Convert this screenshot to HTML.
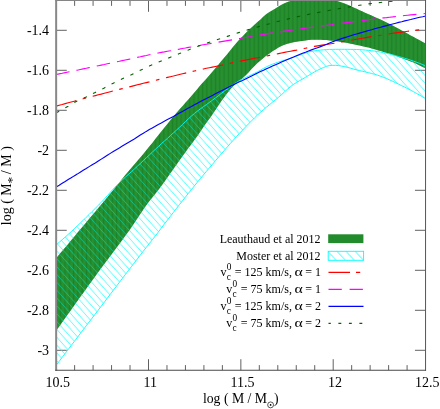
<!DOCTYPE html>
<html><head><meta charset="utf-8"><title>plot</title>
<style>html,body{margin:0;padding:0;background:#fff;}body{width:440px;height:409px;overflow:hidden;font-family:"Liberation Serif",serif;}svg{display:block;}</style></head>
<body>
<svg width="440" height="409" viewBox="0 0 440 409">
<defs>
<pattern id="hatch" patternUnits="userSpaceOnUse" width="7" height="7.84" x="0.3" y="0">
<path d="M-7,-7.84 L14,15.68 M0,-7.84 L14,7.84 M-7,0 L7,15.68" stroke="#00ffff" stroke-width="3" stroke-opacity="0.04" fill="none"/>
<path d="M-7,-7.84 L14,15.68 M0,-7.84 L14,7.84 M-7,0 L7,15.68" stroke="#00ffff" stroke-width="0.7" stroke-opacity="0.8" fill="none"/>
</pattern>
<pattern id="hatchL" patternUnits="userSpaceOnUse" width="9.06" height="9.9" x="328.3" y="251.6">
<path d="M-9.06,-9.9 L18.12,19.8 M0,-9.9 L18.12,9.9 M-9.06,0 L9.06,19.8" stroke="#00ffff" stroke-width="0.8" fill="none"/>
</pattern>
<pattern id="gstripe" patternUnits="userSpaceOnUse" width="4.3" height="10">
<rect x="0" y="0" width="4.3" height="10" fill="#258d2f"/>
<rect x="0" y="0" width="1" height="10" fill="#1e8227"/>
<rect x="2.1" y="0" width="1" height="10" fill="#28922f"/>
</pattern>
<filter id="soft" x="-5%" y="-5%" width="110%" height="110%"><feGaussianBlur stdDeviation="0.3"/></filter>
<clipPath id="clip"><rect x="56.15" y="0" width="369.4" height="370.2"/></clipPath>
</defs>
<rect width="440" height="409" fill="#fff"/>
<path d="M74.62,370.2 v-5.1 M74.62,0 v5.8999999999999995 M93.09,370.2 v-5.1 M93.09,0 v5.8999999999999995 M111.56,370.2 v-5.1 M111.56,0 v5.8999999999999995 M130.03,370.2 v-5.1 M130.03,0 v5.8999999999999995 M148.50,370.2 v-11 M148.50,0 v11.8 M166.97,370.2 v-5.1 M166.97,0 v5.8999999999999995 M185.44,370.2 v-5.1 M185.44,0 v5.8999999999999995 M203.91,370.2 v-5.1 M203.91,0 v5.8999999999999995 M222.38,370.2 v-5.1 M222.38,0 v5.8999999999999995 M240.85,370.2 v-11 M240.85,0 v11.8 M259.32,370.2 v-5.1 M259.32,0 v5.8999999999999995 M277.79,370.2 v-5.1 M277.79,0 v5.8999999999999995 M296.26,370.2 v-5.1 M296.26,0 v5.8999999999999995 M314.73,370.2 v-5.1 M314.73,0 v5.8999999999999995 M333.20,370.2 v-11 M333.20,0 v11.8 M351.67,370.2 v-5.1 M351.67,0 v5.8999999999999995 M370.14,370.2 v-5.1 M370.14,0 v5.8999999999999995 M388.61,370.2 v-5.1 M388.61,0 v5.8999999999999995 M407.08,370.2 v-5.1 M407.08,0 v5.8999999999999995 M56.15,30.30 h10.6 M425.55,30.30 h-10.6 M56.15,70.30 h10.6 M425.55,70.30 h-10.6 M56.15,110.30 h10.6 M425.55,110.30 h-10.6 M56.15,150.30 h10.6 M425.55,150.30 h-10.6 M56.15,190.30 h10.6 M425.55,190.30 h-10.6 M56.15,230.30 h10.6 M425.55,230.30 h-10.6 M56.15,270.30 h10.6 M425.55,270.30 h-10.6 M56.15,310.30 h10.6 M425.55,310.30 h-10.6 M56.15,350.30 h10.6 M425.55,350.30 h-10.6" fill="none" stroke="#5a5a5a" stroke-width="0.95"/>
<g clip-path="url(#clip)">
<polygon points="56.2,258.2 59.2,254.6 62.2,251.0 65.2,247.4 68.2,243.9 71.2,240.3 74.2,236.7 77.2,233.1 80.2,229.5 83.2,225.9 86.2,222.4 89.2,218.8 92.2,215.2 95.3,211.7 98.3,208.1 101.3,204.5 104.3,200.9 107.3,197.2 110.3,193.6 113.3,189.9 116.3,186.3 119.3,182.6 122.3,178.8 125.3,175.1 128.3,171.4 131.3,167.9 134.3,164.4 137.3,160.9 140.3,157.4 143.3,153.9 146.3,150.3 149.3,146.6 152.3,142.9 155.3,139.1 158.3,135.2 161.3,131.4 164.3,127.7 167.4,124.0 170.4,120.3 173.4,116.6 176.4,113.0 179.4,109.5 182.4,106.2 185.4,102.8 188.4,99.5 191.4,96.1 194.4,92.5 197.4,88.9 200.4,85.3 203.4,82.0 206.4,78.7 209.4,75.3 212.4,71.8 215.4,68.3 218.4,64.7 221.4,61.1 224.4,57.5 227.4,53.9 230.4,50.3 233.4,46.6 236.4,43.1 239.4,39.6 242.5,36.4 245.5,33.2 248.5,30.3 251.5,27.4 254.5,24.7 257.5,22.1 260.5,19.4 263.5,16.6 266.5,14.1 269.5,12.1 272.5,10.2 275.5,8.4 278.5,6.6 281.5,4.8 284.5,3.3 287.5,2.0 290.5,0.9 293.5,-0.3 296.5,-1.5 299.5,-2.4 302.5,-3.1 305.5,-3.7 308.5,-4.2 311.5,-4.5 314.5,-4.5 317.6,-4.3 320.6,-3.9 323.6,-3.4 326.6,-2.9 329.6,-2.0 332.6,-0.8 335.6,0.4 338.6,1.5 341.6,2.5 344.6,3.5 347.6,4.7 350.6,6.0 353.6,7.4 356.6,8.8 359.6,10.2 362.6,11.6 365.6,12.9 368.6,14.3 371.6,15.6 374.6,16.9 377.6,18.2 380.6,19.6 383.6,21.0 386.6,22.5 389.7,24.1 392.7,25.6 395.7,27.2 398.7,28.8 401.7,30.5 404.7,32.1 407.7,33.8 410.7,35.5 413.7,37.1 416.7,38.7 419.7,40.3 422.7,42.0 425.7,43.6 425.7,68.6 422.7,67.0 419.7,65.4 416.7,64.0 413.7,62.6 410.7,61.4 407.7,60.2 404.7,59.2 401.7,58.1 398.7,56.9 395.7,55.8 392.7,54.8 389.7,53.8 386.6,52.9 383.6,51.9 380.6,51.0 377.6,50.2 374.6,49.3 371.6,48.4 368.6,47.6 365.6,46.9 362.6,46.2 359.6,45.5 356.6,44.9 353.6,44.3 350.6,43.7 347.6,43.1 344.6,42.5 341.6,42.0 338.6,41.5 335.6,41.1 332.6,40.7 329.6,40.4 326.6,40.1 323.6,39.9 320.6,39.7 317.6,39.7 314.5,39.7 311.5,39.7 308.5,39.9 305.5,40.5 302.5,40.9 299.5,41.3 296.5,41.7 293.5,42.2 290.5,42.9 287.5,43.7 284.5,44.7 281.5,46.0 278.5,47.6 275.5,49.4 272.5,51.3 269.5,53.4 266.5,55.6 263.5,58.0 260.5,60.5 257.5,63.1 254.5,65.9 251.5,68.9 248.5,72.4 245.5,75.5 242.5,78.2 239.4,80.7 236.4,83.2 233.4,86.0 230.4,89.2 227.4,93.0 224.4,97.0 221.4,101.1 218.4,105.5 215.4,110.0 212.4,114.5 209.4,118.7 206.4,122.8 203.4,127.0 200.4,131.4 197.4,135.9 194.4,140.1 191.4,144.2 188.4,148.1 185.4,152.2 182.4,156.3 179.4,160.5 176.4,164.7 173.4,168.9 170.4,173.2 167.4,177.6 164.3,181.9 161.3,186.1 158.3,190.1 155.3,193.8 152.3,197.5 149.3,201.2 146.3,205.3 143.3,209.6 140.3,214.0 137.3,218.5 134.3,223.0 131.3,227.4 128.3,231.7 125.3,235.8 122.3,239.9 119.3,244.0 116.3,248.0 113.3,251.9 110.3,255.9 107.3,259.9 104.3,263.9 101.3,268.0 98.3,272.1 95.3,276.2 92.2,280.4 89.2,284.5 86.2,288.7 83.2,292.9 80.2,297.1 77.2,301.3 74.2,305.5 71.2,309.7 68.2,313.8 65.2,318.0 62.2,322.2 59.2,326.4 56.2,330.6" fill="url(#gstripe)"/>
<clipPath id="cband"><polygon points="56.2,244.9 59.2,242.3 62.2,239.7 65.2,237.1 68.2,234.4 71.2,231.7 74.2,228.9 77.2,226.0 80.2,223.2 83.2,220.3 86.2,217.3 89.2,214.4 92.2,211.4 95.3,208.4 98.3,205.3 101.3,202.2 104.3,199.1 107.3,195.7 110.3,192.3 113.3,189.0 116.3,185.7 119.3,182.7 122.3,179.9 125.3,177.2 128.3,174.5 131.3,171.8 134.3,169.1 137.3,166.3 140.3,163.5 143.3,160.6 146.3,157.8 149.3,155.0 152.3,152.1 155.3,149.4 158.3,146.6 161.3,143.8 164.3,141.1 167.4,138.4 170.4,135.6 173.4,132.9 176.4,130.2 179.4,127.4 182.4,124.5 185.4,121.6 188.4,118.8 191.4,116.1 194.4,113.5 197.4,111.1 200.4,108.8 203.4,106.7 206.4,104.6 209.4,102.4 212.4,100.2 215.4,98.0 218.4,95.7 221.4,93.4 224.4,91.0 227.4,88.8 230.4,86.6 233.4,84.5 236.4,82.5 239.4,80.6 242.5,79.0 245.5,77.5 248.5,76.1 251.5,74.7 254.5,73.3 257.5,71.8 260.5,70.2 263.5,68.4 266.5,66.8 269.5,65.4 272.5,64.2 275.5,63.1 278.5,62.0 281.5,61.0 284.5,60.1 287.5,59.3 290.5,58.3 293.5,57.3 296.5,56.2 299.5,55.2 302.5,54.1 305.5,53.0 308.5,52.0 311.5,51.3 314.5,50.8 317.6,50.4 320.6,50.1 323.6,49.8 326.6,49.5 329.6,49.4 332.6,49.4 335.6,49.3 338.6,49.3 341.6,49.3 344.6,49.3 347.6,49.3 350.6,49.4 353.6,49.4 356.6,49.5 359.6,49.6 362.6,49.8 365.6,50.1 368.6,50.4 371.6,50.7 374.6,51.1 377.6,51.6 380.6,52.1 383.6,52.7 386.6,53.3 389.7,54.1 392.7,54.9 395.7,55.7 398.7,56.6 401.7,57.4 404.7,58.3 407.7,59.2 410.7,60.2 413.7,61.2 416.7,62.3 419.7,63.4 422.7,64.6 425.7,65.8 425.7,98.7 422.7,96.9 419.7,95.2 416.7,93.5 413.7,91.8 410.7,90.2 407.7,88.7 404.7,87.1 401.7,85.7 398.7,84.2 395.7,82.8 392.7,81.3 389.7,79.9 386.6,78.6 383.6,77.4 380.6,76.3 377.6,75.2 374.6,74.3 371.6,73.5 368.6,72.7 365.6,72.0 362.6,71.3 359.6,70.6 356.6,69.9 353.6,69.1 350.6,68.2 347.6,67.4 344.6,66.6 341.6,66.1 338.6,65.6 335.6,65.3 332.6,65.4 329.6,65.5 326.6,66.3 323.6,67.5 320.6,68.7 317.6,70.3 314.5,71.9 311.5,73.7 308.5,75.5 305.5,77.3 302.5,79.1 299.5,80.7 296.5,82.5 293.5,84.4 290.5,86.6 287.5,89.2 284.5,91.9 281.5,94.7 278.5,97.3 275.5,99.8 272.5,102.2 269.5,104.7 266.5,107.1 263.5,109.7 260.5,112.3 257.5,115.0 254.5,117.9 251.5,120.9 248.5,123.9 245.5,127.0 242.5,130.2 239.4,133.4 236.4,136.7 233.4,140.1 230.4,143.4 227.4,146.9 224.4,150.3 221.4,153.8 218.4,157.3 215.4,160.8 212.4,164.4 209.4,167.9 206.4,171.4 203.4,175.0 200.4,178.6 197.4,182.2 194.4,185.9 191.4,189.6 188.4,193.4 185.4,197.1 182.4,200.9 179.4,204.7 176.4,208.6 173.4,212.4 170.4,216.3 167.4,220.2 164.3,224.1 161.3,228.1 158.3,232.1 155.3,236.0 152.3,239.8 149.3,243.6 146.3,247.4 143.3,251.2 140.3,255.1 137.3,259.0 134.3,262.9 131.3,266.8 128.3,270.7 125.3,274.6 122.3,278.5 119.3,282.5 116.3,286.4 113.3,290.3 110.3,294.3 107.3,298.2 104.3,302.2 101.3,306.1 98.3,310.1 95.3,314.0 92.2,318.0 89.2,321.9 86.2,325.8 83.2,329.8 80.2,333.7 77.2,337.7 74.2,341.6 71.2,345.5 68.2,349.5 65.2,353.4 62.2,357.3 59.2,361.3 56.2,365.2"/></clipPath>
<g clip-path="url(#cband)"><path d="M-423.76,-5 L-84.48,375 M-416.76,-5 L-77.48,375 M-409.76,-5 L-70.48,375 M-402.76,-5 L-63.48,375 M-395.76,-5 L-56.48,375 M-388.76,-5 L-49.48,375 M-381.76,-5 L-42.48,375 M-374.76,-5 L-35.48,375 M-367.76,-5 L-28.48,375 M-360.76,-5 L-21.48,375 M-353.76,-5 L-14.48,375 M-346.76,-5 L-7.48,375 M-339.76,-5 L-0.48,375 M-332.76,-5 L6.52,375 M-325.76,-5 L13.52,375 M-318.76,-5 L20.52,375 M-311.76,-5 L27.52,375 M-304.76,-5 L34.52,375 M-297.76,-5 L41.52,375 M-290.76,-5 L48.52,375 M-283.76,-5 L55.52,375 M-276.76,-5 L62.52,375 M-269.76,-5 L69.52,375 M-262.76,-5 L76.52,375 M-255.76,-5 L83.52,375 M-248.76,-5 L90.52,375 M-241.76,-5 L97.52,375 M-234.76,-5 L104.52,375 M-227.76,-5 L111.52,375 M-220.76,-5 L118.52,375 M-213.76,-5 L125.52,375 M-206.76,-5 L132.52,375 M-199.76,-5 L139.52,375 M-192.76,-5 L146.52,375 M-185.76,-5 L153.52,375 M-178.76,-5 L160.52,375 M-171.76,-5 L167.52,375 M-164.76,-5 L174.52,375 M-157.76,-5 L181.52,375 M-150.76,-5 L188.52,375 M-143.76,-5 L195.52,375 M-136.76,-5 L202.52,375 M-129.76,-5 L209.52,375 M-122.76,-5 L216.52,375 M-115.76,-5 L223.52,375 M-108.76,-5 L230.52,375 M-101.76,-5 L237.52,375 M-94.76,-5 L244.52,375 M-87.76,-5 L251.52,375 M-80.76,-5 L258.52,375 M-73.76,-5 L265.52,375 M-66.76,-5 L272.52,375 M-59.76,-5 L279.52,375 M-52.76,-5 L286.52,375 M-45.76,-5 L293.52,375 M-38.76,-5 L300.52,375 M-31.76,-5 L307.52,375 M-24.76,-5 L314.52,375 M-17.76,-5 L321.52,375 M-10.76,-5 L328.52,375 M-3.76,-5 L335.52,375 M3.24,-5 L342.52,375 M10.24,-5 L349.52,375 M17.24,-5 L356.52,375 M24.24,-5 L363.52,375 M31.24,-5 L370.52,375 M38.24,-5 L377.52,375 M45.24,-5 L384.52,375 M52.24,-5 L391.52,375 M59.24,-5 L398.52,375 M66.24,-5 L405.52,375 M73.24,-5 L412.52,375 M80.24,-5 L419.52,375 M87.24,-5 L426.52,375 M94.24,-5 L433.52,375 M101.24,-5 L440.52,375 M108.24,-5 L447.52,375 M115.24,-5 L454.52,375 M122.24,-5 L461.52,375 M129.24,-5 L468.52,375 M136.24,-5 L475.52,375 M143.24,-5 L482.52,375 M150.24,-5 L489.52,375 M157.24,-5 L496.52,375 M164.24,-5 L503.52,375 M171.24,-5 L510.52,375 M178.24,-5 L517.52,375 M185.24,-5 L524.52,375 M192.24,-5 L531.52,375 M199.24,-5 L538.52,375 M206.24,-5 L545.52,375 M213.24,-5 L552.52,375 M220.24,-5 L559.52,375 M227.24,-5 L566.52,375 M234.24,-5 L573.52,375 M241.24,-5 L580.52,375 M248.24,-5 L587.52,375 M255.24,-5 L594.52,375 M262.24,-5 L601.52,375 M269.24,-5 L608.52,375 M276.24,-5 L615.52,375 M283.24,-5 L622.52,375 M290.24,-5 L629.52,375 M297.24,-5 L636.52,375 M304.24,-5 L643.52,375 M311.24,-5 L650.52,375 M318.24,-5 L657.52,375 M325.24,-5 L664.52,375 M332.24,-5 L671.52,375 M339.24,-5 L678.52,375 M346.24,-5 L685.52,375 M353.24,-5 L692.52,375 M360.24,-5 L699.52,375 M367.24,-5 L706.52,375 M374.24,-5 L713.52,375 M381.24,-5 L720.52,375 M388.24,-5 L727.52,375 M395.24,-5 L734.52,375 M402.24,-5 L741.52,375 M409.24,-5 L748.52,375 M416.24,-5 L755.52,375 M423.24,-5 L762.52,375 M430.24,-5 L769.52,375" fill="none" stroke="#00ffff" stroke-width="3" stroke-opacity="0.04"/><path d="M-423.76,-5 L-84.48,375 M-416.76,-5 L-77.48,375 M-409.76,-5 L-70.48,375 M-402.76,-5 L-63.48,375 M-395.76,-5 L-56.48,375 M-388.76,-5 L-49.48,375 M-381.76,-5 L-42.48,375 M-374.76,-5 L-35.48,375 M-367.76,-5 L-28.48,375 M-360.76,-5 L-21.48,375 M-353.76,-5 L-14.48,375 M-346.76,-5 L-7.48,375 M-339.76,-5 L-0.48,375 M-332.76,-5 L6.52,375 M-325.76,-5 L13.52,375 M-318.76,-5 L20.52,375 M-311.76,-5 L27.52,375 M-304.76,-5 L34.52,375 M-297.76,-5 L41.52,375 M-290.76,-5 L48.52,375 M-283.76,-5 L55.52,375 M-276.76,-5 L62.52,375 M-269.76,-5 L69.52,375 M-262.76,-5 L76.52,375 M-255.76,-5 L83.52,375 M-248.76,-5 L90.52,375 M-241.76,-5 L97.52,375 M-234.76,-5 L104.52,375 M-227.76,-5 L111.52,375 M-220.76,-5 L118.52,375 M-213.76,-5 L125.52,375 M-206.76,-5 L132.52,375 M-199.76,-5 L139.52,375 M-192.76,-5 L146.52,375 M-185.76,-5 L153.52,375 M-178.76,-5 L160.52,375 M-171.76,-5 L167.52,375 M-164.76,-5 L174.52,375 M-157.76,-5 L181.52,375 M-150.76,-5 L188.52,375 M-143.76,-5 L195.52,375 M-136.76,-5 L202.52,375 M-129.76,-5 L209.52,375 M-122.76,-5 L216.52,375 M-115.76,-5 L223.52,375 M-108.76,-5 L230.52,375 M-101.76,-5 L237.52,375 M-94.76,-5 L244.52,375 M-87.76,-5 L251.52,375 M-80.76,-5 L258.52,375 M-73.76,-5 L265.52,375 M-66.76,-5 L272.52,375 M-59.76,-5 L279.52,375 M-52.76,-5 L286.52,375 M-45.76,-5 L293.52,375 M-38.76,-5 L300.52,375 M-31.76,-5 L307.52,375 M-24.76,-5 L314.52,375 M-17.76,-5 L321.52,375 M-10.76,-5 L328.52,375 M-3.76,-5 L335.52,375 M3.24,-5 L342.52,375 M10.24,-5 L349.52,375 M17.24,-5 L356.52,375 M24.24,-5 L363.52,375 M31.24,-5 L370.52,375 M38.24,-5 L377.52,375 M45.24,-5 L384.52,375 M52.24,-5 L391.52,375 M59.24,-5 L398.52,375 M66.24,-5 L405.52,375 M73.24,-5 L412.52,375 M80.24,-5 L419.52,375 M87.24,-5 L426.52,375 M94.24,-5 L433.52,375 M101.24,-5 L440.52,375 M108.24,-5 L447.52,375 M115.24,-5 L454.52,375 M122.24,-5 L461.52,375 M129.24,-5 L468.52,375 M136.24,-5 L475.52,375 M143.24,-5 L482.52,375 M150.24,-5 L489.52,375 M157.24,-5 L496.52,375 M164.24,-5 L503.52,375 M171.24,-5 L510.52,375 M178.24,-5 L517.52,375 M185.24,-5 L524.52,375 M192.24,-5 L531.52,375 M199.24,-5 L538.52,375 M206.24,-5 L545.52,375 M213.24,-5 L552.52,375 M220.24,-5 L559.52,375 M227.24,-5 L566.52,375 M234.24,-5 L573.52,375 M241.24,-5 L580.52,375 M248.24,-5 L587.52,375 M255.24,-5 L594.52,375 M262.24,-5 L601.52,375 M269.24,-5 L608.52,375 M276.24,-5 L615.52,375 M283.24,-5 L622.52,375 M290.24,-5 L629.52,375 M297.24,-5 L636.52,375 M304.24,-5 L643.52,375 M311.24,-5 L650.52,375 M318.24,-5 L657.52,375 M325.24,-5 L664.52,375 M332.24,-5 L671.52,375 M339.24,-5 L678.52,375 M346.24,-5 L685.52,375 M353.24,-5 L692.52,375 M360.24,-5 L699.52,375 M367.24,-5 L706.52,375 M374.24,-5 L713.52,375 M381.24,-5 L720.52,375 M388.24,-5 L727.52,375 M395.24,-5 L734.52,375 M402.24,-5 L741.52,375 M409.24,-5 L748.52,375 M416.24,-5 L755.52,375 M423.24,-5 L762.52,375 M430.24,-5 L769.52,375" fill="none" stroke="#00ffff" stroke-width="0.7" stroke-opacity="0.85"/></g>
<polygon points="56.2,258.2 59.2,254.6 62.2,251.0 65.2,247.4 68.2,243.9 71.2,240.3 74.2,236.7 77.2,233.1 80.2,229.5 83.2,225.9 86.2,222.4 89.2,218.8 92.2,215.2 95.3,211.7 98.3,208.1 101.3,204.5 104.3,200.9 107.3,197.2 110.3,193.6 113.3,189.9 116.3,186.3 119.3,182.6 122.3,178.8 125.3,175.1 128.3,171.4 131.3,167.9 134.3,164.4 137.3,160.9 140.3,157.4 143.3,153.9 146.3,150.3 149.3,146.6 152.3,142.9 155.3,139.1 158.3,135.2 161.3,131.4 164.3,127.7 167.4,124.0 170.4,120.3 173.4,116.6 176.4,113.0 179.4,109.5 182.4,106.2 185.4,102.8 188.4,99.5 191.4,96.1 194.4,92.5 197.4,88.9 200.4,85.3 203.4,82.0 206.4,78.7 209.4,75.3 212.4,71.8 215.4,68.3 218.4,64.7 221.4,61.1 224.4,57.5 227.4,53.9 230.4,50.3 233.4,46.6 236.4,43.1 239.4,39.6 242.5,36.4 245.5,33.2 248.5,30.3 251.5,27.4 254.5,24.7 257.5,22.1 260.5,19.4 263.5,16.6 266.5,14.1 269.5,12.1 272.5,10.2 275.5,8.4 278.5,6.6 281.5,4.8 284.5,3.3 287.5,2.0 290.5,0.9 293.5,-0.3 296.5,-1.5 299.5,-2.4 302.5,-3.1 305.5,-3.7 308.5,-4.2 311.5,-4.5 314.5,-4.5 317.6,-4.3 320.6,-3.9 323.6,-3.4 326.6,-2.9 329.6,-2.0 332.6,-0.8 335.6,0.4 338.6,1.5 341.6,2.5 344.6,3.5 347.6,4.7 350.6,6.0 353.6,7.4 356.6,8.8 359.6,10.2 362.6,11.6 365.6,12.9 368.6,14.3 371.6,15.6 374.6,16.9 377.6,18.2 380.6,19.6 383.6,21.0 386.6,22.5 389.7,24.1 392.7,25.6 395.7,27.2 398.7,28.8 401.7,30.5 404.7,32.1 407.7,33.8 410.7,35.5 413.7,37.1 416.7,38.7 419.7,40.3 422.7,42.0 425.7,43.6 425.7,68.6 422.7,67.0 419.7,65.4 416.7,64.0 413.7,62.6 410.7,61.4 407.7,60.2 404.7,59.2 401.7,58.1 398.7,56.9 395.7,55.8 392.7,54.8 389.7,53.8 386.6,52.9 383.6,51.9 380.6,51.0 377.6,50.2 374.6,49.3 371.6,48.4 368.6,47.6 365.6,46.9 362.6,46.2 359.6,45.5 356.6,44.9 353.6,44.3 350.6,43.7 347.6,43.1 344.6,42.5 341.6,42.0 338.6,41.5 335.6,41.1 332.6,40.7 329.6,40.4 326.6,40.1 323.6,39.9 320.6,39.7 317.6,39.7 314.5,39.7 311.5,39.7 308.5,39.9 305.5,40.5 302.5,40.9 299.5,41.3 296.5,41.7 293.5,42.2 290.5,42.9 287.5,43.7 284.5,44.7 281.5,46.0 278.5,47.6 275.5,49.4 272.5,51.3 269.5,53.4 266.5,55.6 263.5,58.0 260.5,60.5 257.5,63.1 254.5,65.9 251.5,68.9 248.5,72.4 245.5,75.5 242.5,78.2 239.4,80.7 236.4,83.2 233.4,86.0 230.4,89.2 227.4,93.0 224.4,97.0 221.4,101.1 218.4,105.5 215.4,110.0 212.4,114.5 209.4,118.7 206.4,122.8 203.4,127.0 200.4,131.4 197.4,135.9 194.4,140.1 191.4,144.2 188.4,148.1 185.4,152.2 182.4,156.3 179.4,160.5 176.4,164.7 173.4,168.9 170.4,173.2 167.4,177.6 164.3,181.9 161.3,186.1 158.3,190.1 155.3,193.8 152.3,197.5 149.3,201.2 146.3,205.3 143.3,209.6 140.3,214.0 137.3,218.5 134.3,223.0 131.3,227.4 128.3,231.7 125.3,235.8 122.3,239.9 119.3,244.0 116.3,248.0 113.3,251.9 110.3,255.9 107.3,259.9 104.3,263.9 101.3,268.0 98.3,272.1 95.3,276.2 92.2,280.4 89.2,284.5 86.2,288.7 83.2,292.9 80.2,297.1 77.2,301.3 74.2,305.5 71.2,309.7 68.2,313.8 65.2,318.0 62.2,322.2 59.2,326.4 56.2,330.6" fill="url(#gstripe)" fill-opacity="0.35"/>
<polyline points="56.2,244.9 59.2,242.3 62.2,239.7 65.2,237.1 68.2,234.4 71.2,231.7 74.2,228.9 77.2,226.0 80.2,223.2 83.2,220.3 86.2,217.3 89.2,214.4 92.2,211.4 95.3,208.4 98.3,205.3 101.3,202.2 104.3,199.1 107.3,195.7 110.3,192.3 113.3,189.0 116.3,185.7 119.3,182.7 122.3,179.9 125.3,177.2 128.3,174.5 131.3,171.8 134.3,169.1 137.3,166.3 140.3,163.5 143.3,160.6 146.3,157.8 149.3,155.0 152.3,152.1 155.3,149.4 158.3,146.6 161.3,143.8 164.3,141.1 167.4,138.4 170.4,135.6 173.4,132.9 176.4,130.2 179.4,127.4 182.4,124.5 185.4,121.6 188.4,118.8 191.4,116.1 194.4,113.5 197.4,111.1 200.4,108.8 203.4,106.7 206.4,104.6 209.4,102.4 212.4,100.2 215.4,98.0 218.4,95.7 221.4,93.4 224.4,91.0 227.4,88.8 230.4,86.6 233.4,84.5 236.4,82.5 239.4,80.6 242.5,79.0 245.5,77.5 248.5,76.1 251.5,74.7 254.5,73.3 257.5,71.8 260.5,70.2 263.5,68.4 266.5,66.8 269.5,65.4 272.5,64.2 275.5,63.1 278.5,62.0 281.5,61.0 284.5,60.1 287.5,59.3 290.5,58.3 293.5,57.3 296.5,56.2 299.5,55.2 302.5,54.1 305.5,53.0 308.5,52.0 311.5,51.3 314.5,50.8 317.6,50.4 320.6,50.1 323.6,49.8 326.6,49.5 329.6,49.4 332.6,49.4 335.6,49.3 338.6,49.3 341.6,49.3 344.6,49.3 347.6,49.3 350.6,49.4 353.6,49.4 356.6,49.5 359.6,49.6 362.6,49.8 365.6,50.1 368.6,50.4 371.6,50.7 374.6,51.1 377.6,51.6 380.6,52.1 383.6,52.7 386.6,53.3 389.7,54.1 392.7,54.9 395.7,55.7 398.7,56.6 401.7,57.4 404.7,58.3 407.7,59.2 410.7,60.2 413.7,61.2 416.7,62.3 419.7,63.4 422.7,64.6 425.7,65.8" fill="none" stroke="#00ffff" stroke-width="0.9"/>
<polyline points="56.2,365.2 59.2,361.3 62.2,357.3 65.2,353.4 68.2,349.5 71.2,345.5 74.2,341.6 77.2,337.7 80.2,333.7 83.2,329.8 86.2,325.8 89.2,321.9 92.2,318.0 95.3,314.0 98.3,310.1 101.3,306.1 104.3,302.2 107.3,298.2 110.3,294.3 113.3,290.3 116.3,286.4 119.3,282.5 122.3,278.5 125.3,274.6 128.3,270.7 131.3,266.8 134.3,262.9 137.3,259.0 140.3,255.1 143.3,251.2 146.3,247.4 149.3,243.6 152.3,239.8 155.3,236.0 158.3,232.1 161.3,228.1 164.3,224.1 167.4,220.2 170.4,216.3 173.4,212.4 176.4,208.6 179.4,204.7 182.4,200.9 185.4,197.1 188.4,193.4 191.4,189.6 194.4,185.9 197.4,182.2 200.4,178.6 203.4,175.0 206.4,171.4 209.4,167.9 212.4,164.4 215.4,160.8 218.4,157.3 221.4,153.8 224.4,150.3 227.4,146.9 230.4,143.4 233.4,140.1 236.4,136.7 239.4,133.4 242.5,130.2 245.5,127.0 248.5,123.9 251.5,120.9 254.5,117.9 257.5,115.0 260.5,112.3 263.5,109.7 266.5,107.1 269.5,104.7 272.5,102.2 275.5,99.8 278.5,97.3 281.5,94.7 284.5,91.9 287.5,89.2 290.5,86.6 293.5,84.4 296.5,82.5 299.5,80.7 302.5,79.1 305.5,77.3 308.5,75.5 311.5,73.7 314.5,71.9 317.6,70.3 320.6,68.7 323.6,67.5 326.6,66.3 329.6,65.5 332.6,65.4 335.6,65.3 338.6,65.6 341.6,66.1 344.6,66.6 347.6,67.4 350.6,68.2 353.6,69.1 356.6,69.9 359.6,70.6 362.6,71.3 365.6,72.0 368.6,72.7 371.6,73.5 374.6,74.3 377.6,75.2 380.6,76.3 383.6,77.4 386.6,78.6 389.7,79.9 392.7,81.3 395.7,82.8 398.7,84.2 401.7,85.7 404.7,87.1 407.7,88.7 410.7,90.2 413.7,91.8 416.7,93.5 419.7,95.2 422.7,96.9 425.7,98.7" fill="none" stroke="#00ffff" stroke-width="0.9"/>
<polyline points="56.2,106.1 59.2,105.3 62.2,104.5 65.2,103.6 68.2,102.8 71.2,102.0 74.2,101.2 77.2,100.4 80.2,99.6 83.2,98.8 86.2,98.0 89.2,97.2 92.2,96.4 95.3,95.6 98.3,94.8 101.3,94.1 104.3,93.3 107.3,92.5 110.3,91.7 113.3,90.9 116.3,90.2 119.3,89.4 122.3,88.6 125.3,87.9 128.3,87.1 131.3,86.4 134.3,85.6 137.3,84.8 140.3,84.1 143.3,83.3 146.3,82.6 149.3,81.9 152.3,81.1 155.3,80.4 158.3,79.6 161.3,78.9 164.3,78.1 167.4,77.4 170.4,76.7 173.4,76.0 176.4,75.2 179.4,74.5 182.4,73.8 185.4,73.1 188.4,72.4 191.4,71.7 194.4,71.0 197.4,70.3 200.4,69.7 203.4,69.0 206.4,68.3 209.4,67.7 212.4,67.1 215.4,66.5 218.4,65.9 221.4,65.2 224.4,64.6 227.4,63.9 230.4,63.2 233.4,62.6 236.4,61.9 239.4,61.3 242.5,60.6 245.5,60.1 248.5,59.5 251.5,58.9 254.5,58.3 257.5,57.8 260.5,57.2 263.5,56.6 266.5,56.0 269.5,55.4 272.5,54.8 275.5,54.2 278.5,53.6 281.5,53.0 284.5,52.4 287.5,51.8 290.5,51.2 293.5,50.6 296.5,50.1 299.5,49.5 302.5,48.8 305.5,48.2 308.5,47.6 311.5,47.0 314.5,46.4 317.6,45.9 320.6,45.4 323.6,44.9 326.6,44.5 329.6,44.0 332.6,43.5 335.6,43.0 338.6,42.5 341.6,41.9 344.6,41.4 347.6,40.9 350.6,40.3 353.6,39.8 356.6,39.2 359.6,38.7 362.6,38.2 365.6,37.6 368.6,37.1 371.6,36.6 374.6,36.1 377.6,35.6 380.6,35.2 383.6,34.7 386.6,34.2 389.7,33.8 392.7,33.3 395.7,32.9 398.7,32.5 401.7,32.1 404.7,31.7 407.7,31.3 410.7,30.9 413.7,30.5 416.7,30.1 419.7,29.8 422.7,29.4 425.7,29.0" fill="none" stroke="#ff0000" stroke-width="1.12" stroke-dasharray="20.8 6.6 3.6 6.8"/>
<polyline points="56.2,74.5 59.2,73.9 62.2,73.3 65.2,72.6 68.2,72.0 71.2,71.4 74.2,70.8 77.2,70.2 80.2,69.5 83.2,68.9 86.2,68.3 89.2,67.6 92.2,67.0 95.3,66.4 98.3,65.7 101.3,65.1 104.3,64.5 107.3,63.8 110.3,63.2 113.3,62.6 116.3,61.9 119.3,61.3 122.3,60.6 125.3,60.0 128.3,59.4 131.3,58.7 134.3,58.1 137.3,57.4 140.3,56.8 143.3,56.1 146.3,55.5 149.3,54.8 152.3,54.2 155.3,53.6 158.3,53.0 161.3,52.4 164.3,51.9 167.4,51.3 170.4,50.7 173.4,50.2 176.4,49.6 179.4,49.1 182.4,48.5 185.4,48.0 188.4,47.4 191.4,46.9 194.4,46.3 197.4,45.8 200.4,45.3 203.4,44.7 206.4,44.2 209.4,43.7 212.4,43.2 215.4,42.6 218.4,42.1 221.4,41.6 224.4,41.1 227.4,40.6 230.4,40.1 233.4,39.6 236.4,39.1 239.4,38.5 242.5,38.0 245.5,37.5 248.5,37.0 251.5,36.5 254.5,36.0 257.5,35.5 260.5,34.9 263.5,34.4 266.5,33.9 269.5,33.4 272.5,32.9 275.5,32.5 278.5,32.0 281.5,31.6 284.5,31.1 287.5,30.7 290.5,30.3 293.5,29.9 296.5,29.4 299.5,29.0 302.5,28.6 305.5,28.2 308.5,27.8 311.5,27.4 314.5,27.0 317.6,26.6 320.6,26.2 323.6,25.8 326.6,25.4 329.6,25.0 332.6,24.6 335.6,24.2 338.6,23.8 341.6,23.4 344.6,22.9 347.6,22.5 350.6,22.1 353.6,21.7 356.6,21.3 359.6,20.9 362.6,20.5 365.6,20.1 368.6,19.7 371.6,19.4 374.6,19.0 377.6,18.6 380.6,18.3 383.6,17.9 386.6,17.6 389.7,17.2 392.7,16.9 395.7,16.5 398.7,16.2 401.7,15.9 404.7,15.5 407.7,15.2 410.7,14.9 413.7,14.6 416.7,14.3 419.7,14.0 422.7,13.8 425.7,13.5" fill="none" stroke="#ff00ff" stroke-width="1.12" stroke-dasharray="13.6 7.1"/>
<polyline points="56.2,187.0 59.2,185.2 62.2,183.3 65.2,181.5 68.2,179.6 71.2,177.8 74.2,175.9 77.2,174.1 80.2,172.2 83.2,170.3 86.2,168.5 89.2,166.6 92.2,164.7 95.3,162.9 98.3,161.0 101.3,159.1 104.3,157.2 107.3,155.3 110.3,153.4 113.3,151.5 116.3,149.7 119.3,147.9 122.3,146.1 125.3,144.3 128.3,142.5 131.3,140.7 134.3,138.9 137.3,137.0 140.3,135.1 143.3,133.3 146.3,131.4 149.3,129.6 152.3,127.9 155.3,126.2 158.3,124.5 161.3,122.9 164.3,121.2 167.4,119.6 170.4,118.0 173.4,116.4 176.4,114.8 179.4,113.1 182.4,111.5 185.4,109.8 188.4,108.1 191.4,106.5 194.4,104.8 197.4,103.2 200.4,101.6 203.4,100.0 206.4,98.5 209.4,96.9 212.4,95.4 215.4,93.8 218.4,92.3 221.4,90.8 224.4,89.3 227.4,87.8 230.4,86.3 233.4,84.8 236.4,83.3 239.4,81.8 242.5,80.4 245.5,78.9 248.5,77.4 251.5,76.0 254.5,74.5 257.5,73.0 260.5,71.6 263.5,70.2 266.5,68.8 269.5,67.5 272.5,66.1 275.5,64.8 278.5,63.4 281.5,62.1 284.5,60.8 287.5,59.5 290.5,58.2 293.5,57.0 296.5,55.7 299.5,54.5 302.5,53.3 305.5,52.2 308.5,51.0 311.5,49.9 314.5,48.8 317.6,47.7 320.6,46.6 323.6,45.5 326.6,44.3 329.6,43.0 332.6,41.8 335.6,40.7 338.6,39.6 341.6,38.6 344.6,37.6 347.6,36.7 350.6,35.8 353.6,34.8 356.6,34.0 359.6,33.1 362.6,32.2 365.6,31.4 368.6,30.5 371.6,29.7 374.6,28.8 377.6,28.0 380.6,27.2 383.6,26.4 386.6,25.6 389.7,24.8 392.7,24.0 395.7,23.2 398.7,22.4 401.7,21.7 404.7,20.9 407.7,20.2 410.7,19.5 413.7,18.7 416.7,18.0 419.7,17.3 422.7,16.7 425.7,16.0" fill="none" stroke="#0000ff" stroke-width="1.12"/>
<polyline points="56.2,112.8 59.2,111.2 62.2,109.6 65.2,107.9 68.2,106.2 71.2,104.3 74.2,102.6 77.2,101.0 80.2,99.6 83.2,98.3 86.2,96.9 89.2,95.4 92.2,93.9 95.3,92.4 98.3,90.9 101.3,89.4 104.3,87.9 107.3,86.3 110.3,84.7 113.3,83.2 116.3,81.7 119.3,80.2 122.3,78.8 125.3,77.5 128.3,76.2 131.3,74.8 134.3,73.3 137.3,71.8 140.3,70.3 143.3,68.9 146.3,67.5 149.3,66.1 152.3,64.8 155.3,63.5 158.3,62.2 161.3,60.9 164.3,59.7 167.4,58.5 170.4,57.2 173.4,56.0 176.4,54.8 179.4,53.6 182.4,52.3 185.4,51.2 188.4,50.0 191.4,48.8 194.4,47.7 197.4,46.5 200.4,45.4 203.4,44.3 206.4,43.2 209.4,42.2 212.4,41.2 215.4,40.2 218.4,39.2 221.4,38.3 224.4,37.4 227.4,36.4 230.4,35.4 233.4,34.4 236.4,33.4 239.4,32.4 242.5,31.4 245.5,30.5 248.5,29.6 251.5,28.7 254.5,27.8 257.5,27.0 260.5,26.2 263.5,25.4 266.5,24.6 269.5,23.8 272.5,22.9 275.5,22.1 278.5,21.3 281.5,20.6 284.5,19.8 287.5,19.1 290.5,18.4 293.5,17.7 296.5,17.0 299.5,16.3 302.5,15.7 305.5,15.0 308.5,14.4 311.5,13.8 314.5,13.2 317.6,12.6 320.6,12.0 323.6,11.5 326.6,10.9 329.6,10.3 332.6,9.8 335.6,9.3 338.6,8.7 341.6,8.2 344.6,7.7 347.6,7.2 350.6,6.7 353.6,6.2 356.6,5.7 359.6,5.2 362.6,4.8 365.6,4.3 368.6,3.9 371.6,3.5 374.6,3.1 377.6,2.8 380.6,2.5 383.6,2.1 386.6,1.8 389.7,1.5 392.7,1.2 395.7,0.8 398.7,0.5 401.7,0.2 404.7,-0.1 407.7,-0.4 410.7,-0.7 413.7,-0.9 416.7,-1.2 419.7,-1.5 422.7,-1.7 425.7,-2.0" fill="none" stroke="#006400" stroke-width="1.12" stroke-dasharray="3.4 7.0"/>
</g>
<path d="M56.15,0 V370.7" fill="none" stroke="#888" stroke-width="2"/>
<path d="M55.2,0.5 H426" fill="none" stroke="#858585" stroke-width="1"/>
<path d="M425.55,0 V370.7" fill="none" stroke="#555" stroke-width="1"/>
<path d="M55.2,370.2 H426.05" fill="none" stroke="#484848" stroke-width="1.1"/>
<g font-family="'Liberation Serif', serif" font-size="14px" fill="#000" filter="url(#soft)">
<text x="49.1" y="34.9" text-anchor="end">-1.4</text>
<text x="49.1" y="74.9" text-anchor="end">-1.6</text>
<text x="49.1" y="114.9" text-anchor="end">-1.8</text>
<text x="49.1" y="155.0" text-anchor="end">-2</text>
<text x="49.1" y="195.0" text-anchor="end">-2.2</text>
<text x="49.1" y="235.0" text-anchor="end">-2.4</text>
<text x="49.1" y="275.0" text-anchor="end">-2.6</text>
<text x="49.1" y="315.0" text-anchor="end">-2.8</text>
<text x="49.1" y="355.1" text-anchor="end">-3</text>
<text x="57.8" y="386.9" text-anchor="middle">10.5</text>
<text x="150.2" y="386.9" text-anchor="middle">11</text>
<text x="242.5" y="386.9" text-anchor="middle">11.5</text>
<text x="334.9" y="386.9" text-anchor="middle">12</text>
<text x="427.3" y="386.9" text-anchor="middle">12.5</text>
<text x="202.9" y="403.3" font-size="13.75px">log ( M / M</text>
<circle cx="270.6" cy="404.9" r="2.95" fill="none" stroke="#000" stroke-width="0.65"/>
<circle cx="270.6" cy="404.9" r="0.85" fill="#000"/>
<text x="274.1" y="403.3" font-size="13.75px">)</text>
<text transform="translate(11.2,225.2) rotate(-90)">log ( M<tspan font-size="13.5px" dy="4.6" dx="-0.4">*</tspan><tspan dy="-4.6" dx="-0.8"> / M  )</tspan></text>
</g>
<g font-family="'Liberation Serif', serif" font-size="12px" fill="#000" filter="url(#soft)">
<text x="320.6" y="243" text-anchor="end">Leauthaud et al 2012</text>
<text x="320.6" y="259.6" text-anchor="end">Moster et al 2012</text>
<text x="291.9" y="275.9" text-anchor="end">= 125 km/s,</text>
<text transform="translate(294.4,275.9) scale(1.31,1)">&#x3b1;</text>
<text x="321" y="275.9" text-anchor="end">= 1</text>
<text x="220.5" y="275.9">v</text>
<text x="226.7" y="270.1" font-size="9.3px">0</text>
<text x="226.7" y="279.8" font-size="9.3px">c</text>
<text x="291.9" y="292.9" text-anchor="end">= 75 km/s,</text>
<text transform="translate(294.4,292.9) scale(1.31,1)">&#x3b1;</text>
<text x="321" y="292.9" text-anchor="end">= 1</text>
<text x="226.3" y="292.9">v</text>
<text x="232.5" y="287.1" font-size="9.3px">0</text>
<text x="232.5" y="296.8" font-size="9.3px">c</text>
<text x="291.9" y="309.9" text-anchor="end">= 125 km/s,</text>
<text transform="translate(294.4,309.9) scale(1.31,1)">&#x3b1;</text>
<text x="321" y="309.9" text-anchor="end">= 2</text>
<text x="220.5" y="309.9">v</text>
<text x="226.7" y="304.1" font-size="9.3px">0</text>
<text x="226.7" y="313.8" font-size="9.3px">c</text>
<text x="291.9" y="326.8" text-anchor="end">= 75 km/s,</text>
<text transform="translate(294.4,326.8) scale(1.31,1)">&#x3b1;</text>
<text x="321" y="326.8" text-anchor="end">= 2</text>
<text x="226.3" y="326.8">v</text>
<text x="232.5" y="321.0" font-size="9.3px">0</text>
<text x="232.5" y="330.7" font-size="9.3px">c</text>
</g>
<rect x="328.2" y="234.3" width="35.2" height="8.8" fill="#228b2b"/>
<rect x="328.2" y="251.3" width="35.4" height="9" fill="url(#hatchL)" stroke="#00ffff" stroke-width="0.9"/>
<path d="M328.5,272.4 H363.5" stroke="#ff0000" stroke-width="1.3" stroke-dasharray="21.5 6 4.2 6"/>
<path d="M328.5,289.4 H363.5" stroke="#ff00ff" stroke-width="1.3" stroke-dasharray="13.3 7.8"/>
<path d="M328.5,306.4 H363.5" stroke="#0000ff" stroke-width="1.3"/>
<path d="M328.5,323.4 H363.5" stroke="#006400" stroke-width="1.3" stroke-dasharray="2.9 7.6" stroke-dashoffset="0.6"/>
</svg>
</body></html>
